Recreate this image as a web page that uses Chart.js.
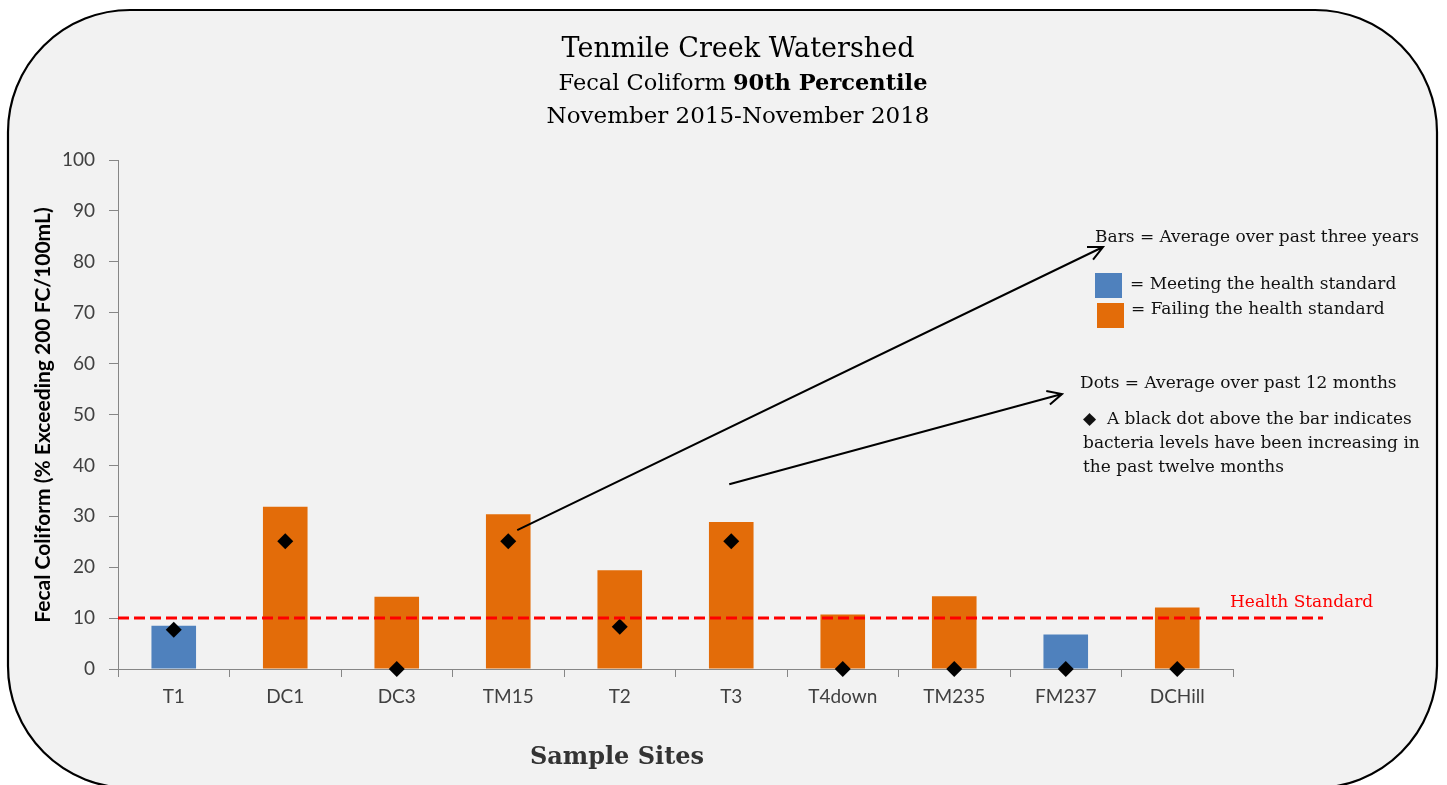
<!DOCTYPE html>
<html>
<head>
<meta charset="utf-8">
<title>Tenmile Creek Watershed</title>
<script src="https://cdn.jsdelivr.net/npm/chart.js@4/dist/chart.umd.min.js"></script>
<style>
  html, body { margin: 0; padding: 0; background: #fff; }
  #wrap { width: 1447px; height: 785px; position: relative; }
</style>
</head>
<body>
<div id="wrap"><canvas id="coliformChart"></canvas></div>
<script>
// Data
const sites = ['T1', 'DC1', 'DC3', 'TM15', 'T2', 'T3', 'T4down', 'TM235', 'FM237', 'DCHill'];
const threeYearAvg = [8.5, 31.9, 14.2, 30.4, 19.4, 28.9, 10.7, 14.3, 6.8, 12.1];
const twelveMonthAvg = [7.7, 25.1, 0, 25.1, 8.3, 25.1, 0, 0, 0, 0];
const healthStandard = 10;
const yMin = 0, yMax = 100, yStep = 10;

// Colours
const BLUE = '#4f81bd';
const ORANGE = '#e36c09';
const AXIS = '#868686';
const TEXT = '#404040';

const SERIF = "'DejaVu Serif', 'Liberation Serif', serif";
const SANS = "Lato, 'Open Sans', sans-serif";

// bars failing the standard are orange, meeting it blue
const barColors = threeYearAvg.map(v => v > healthStandard ? ORANGE : BLUE);

function arrow(ctx, x1, y1, x2, y2) {
  const ang = Math.atan2(y2 - y1, x2 - x1);
  const head = 16;
  ctx.beginPath();
  ctx.moveTo(x1, y1);
  ctx.lineTo(x2, y2);
  ctx.moveTo(x2 - head * Math.cos(ang - 0.45), y2 - head * Math.sin(ang - 0.45));
  ctx.lineTo(x2, y2);
  ctx.lineTo(x2 - head * Math.cos(ang + 0.45), y2 - head * Math.sin(ang + 0.45));
  ctx.stroke();
}

// Rounded frame + light grey background
const framePlugin = {
  id: 'frame',
  beforeDraw(chart) {
    const ctx = chart.ctx;
    ctx.save();
    ctx.fillStyle = '#ffffff';
    ctx.fillRect(0, 0, chart.width, chart.height);
    ctx.beginPath();
    ctx.roundRect(8, 10, 1429, 778, 122);
    ctx.fillStyle = '#f2f2f2';
    ctx.fill();
    ctx.lineWidth = 2.2;
    ctx.strokeStyle = '#000';
    ctx.stroke();
    ctx.restore();
  }
};

// Titles, health standard line, legend notes and arrows
const notesPlugin = {
  id: 'notes',
  afterDatasetsDraw(chart) {
    const ctx = chart.ctx;
    const x = chart.scales.x, y = chart.scales.y;
    const area = chart.chartArea;
    ctx.save();

    // health standard dashed line
    const hy = y.getPixelForValue(healthStandard);
    ctx.strokeStyle = '#ff0000';
    ctx.lineWidth = 3;
    ctx.setLineDash([11, 5]);
    ctx.beginPath();
    ctx.moveTo(area.left, hy);
    ctx.lineTo(area.right + 90, hy);
    ctx.stroke();
    ctx.setLineDash([]);
    ctx.fillStyle = '#ff0000';
    ctx.font = '17px ' + SERIF;
    ctx.textAlign = 'left';
    ctx.textBaseline = 'alphabetic';
    ctx.fillText('Health Standard', 1230, hy - 11);

    // main title
    ctx.fillStyle = '#000';
    ctx.textAlign = 'center';
    ctx.font = '27px ' + SERIF;
    ctx.fillText('Tenmile Creek Watershed', 738, 57);
    ctx.font = '22.5px ' + SERIF;
    const p1 = 'Fecal Coliform ', p2 = '90th Percentile';
    const w1 = ctx.measureText(p1).width;
    ctx.font = 'bold 22.5px ' + SERIF;
    const w2 = ctx.measureText(p2).width;
    const sx = 743 - (w1 + w2) / 2;
    ctx.textAlign = 'left';
    ctx.font = '22.5px ' + SERIF;
    ctx.fillText(p1, sx, 90);
    ctx.font = 'bold 22.5px ' + SERIF;
    ctx.fillText(p2, sx + w1, 90);
    ctx.textAlign = 'center';
    ctx.font = '23px ' + SERIF;
    ctx.fillText('November 2015-November 2018', 738, 123);

    // x axis title
    ctx.fillStyle = '#333';
    ctx.font = 'bold 24px ' + SERIF;
    ctx.fillText('Sample Sites', 617, 764);

    // y axis title
    ctx.save();
    ctx.translate(43, 415);
    ctx.rotate(-Math.PI / 2);
    ctx.fillStyle = '#000';
    ctx.font = 'bold 21px ' + SANS;
    ctx.textBaseline = 'middle';
    ctx.fillText('Fecal Coliform (% Exceeding 200 FC/100mL)', 0, 0);
    ctx.restore();

    // legend notes
    ctx.fillStyle = '#111';
    ctx.textAlign = 'left';
    ctx.font = '17px ' + SERIF;
    ctx.fillText('Bars = Average over past three years', 1095, 242);
    ctx.fillStyle = BLUE;
    ctx.fillRect(1095, 273, 27, 25);
    ctx.fillStyle = ORANGE;
    ctx.fillRect(1097, 303, 27, 25);
    ctx.fillStyle = '#111';
    ctx.fillText('= Meeting the health standard', 1130, 289);
    ctx.fillText('= Failing the health standard', 1131, 314);
    ctx.fillText('Dots = Average over past 12 months', 1080, 388);
    ctx.fillText('\u25C6  A black dot above the bar indicates', 1083, 424);
    ctx.fillText('bacteria levels have been increasing in', 1083, 448);
    ctx.fillText('the past twelve months', 1083, 472);

    // arrows from bars to the notes
    ctx.strokeStyle = '#000';
    ctx.lineWidth = 2;
    arrow(ctx, x.getPixelForValue(3) + 9, y.getPixelForValue(27.3), 1103, 247);
    arrow(ctx, x.getPixelForValue(5) - 2, y.getPixelForValue(36.3), 1062, 394);

    ctx.restore();
  }
};

const chart = new Chart(document.getElementById('coliformChart'), {
  type: 'bar',
  data: {
    labels: sites,
    datasets: [
      {
        type: 'line',
        label: 'Average over past 12 months',
        data: twelveMonthAvg,
        showLine: false,
        pointStyle: 'rectRot',
        pointRadius: 8,
        pointHoverRadius: 8,
        pointBackgroundColor: '#000',
        pointBorderColor: '#000',
        pointBorderWidth: 0,
        clip: false,
        order: 1
      },
      {
        type: 'bar',
        label: 'Average over past three years',
        data: threeYearAvg,
        backgroundColor: barColors,
        borderWidth: 0,
        barPercentage: 1,
        categoryPercentage: 0.4,
        order: 2
      }
    ]
  },
  options: {
    responsive: true,
    maintainAspectRatio: false,
    animation: false,
    layout: { padding: { left: 30, right: 214, top: 160, bottom: 0 } },
    plugins: {
      legend: { display: false },
      tooltip: { enabled: false }
    },
    scales: {
      x: {
        offset: true,
        grid: { display: true, offset: true, drawOnChartArea: false, tickLength: 8, color: AXIS },
        border: { color: AXIS, width: 1 },
        ticks: { color: TEXT, font: { family: SANS, size: 19 }, padding: 8, maxRotation: 0 },
        afterFit(s) { s.height = 116; }
      },
      y: {
        min: yMin,
        max: yMax,
        grid: { drawOnChartArea: false, tickLength: 9, color: AXIS },
        border: { color: AXIS, width: 1 },
        ticks: { stepSize: yStep, color: TEXT, font: { family: SANS, size: 19 }, padding: 14 },
        afterFit(s) { s.width = 88; }
      }
    }
  },
  plugins: [framePlugin, notesPlugin]
});
</script>
</body>
</html>
